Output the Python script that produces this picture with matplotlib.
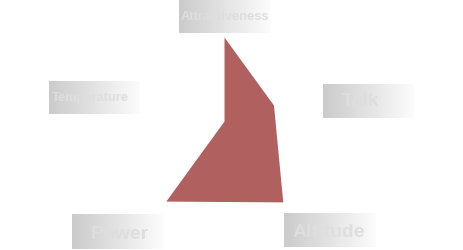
import matplotlib.pyplot as plt
import numpy as np
from matplotlib.colors import LinearSegmentedColormap

# data
categories = ['Attractiveness', 'Talk', 'Altitude', 'Power', 'Temperature']
values = [84, 52, 100, 99, 0]
r_max = 105

# label boxes (pixels, top-left origin): x0, y0, x1, y1 and text centre
boxes = [(179, 0, 270, 34), (323, 85, 414, 119), (284, 214, 376, 248),
         (72, 215, 163, 250), (49, 82, 140, 115)]
text_pos = [(224.5, 17), (361, 102), (329, 233), (120, 235), (90, 98)]
text_size = [9.3, 14, 14, 14, 9.3]

W, H = 464, 251
fig = plt.figure(figsize=(W / 100, H / 100), dpi=100)

cx, cy, R = 224.5, 122.5, 105
ax = fig.add_axes([(cx - R) / W, (H - cy - R) / H, 2 * R / W, 2 * R / H], projection='polar')
ax.set_theta_offset(np.pi / 2)
ax.set_theta_direction(-1)
angles = np.linspace(0, 2 * np.pi, len(categories), endpoint=False)
ax.fill(angles, values, color='#b0605e', linewidth=0)
ax.set_ylim(0, r_max)
ax.axis('off')

grad_cmap = LinearSegmentedColormap.from_list('g', ['#cbcbcb', '#fcfcfc'])
grad = np.linspace(0, 1, 256).reshape(1, -1)
for name, (x0, y0, x1, y1), (tx, ty), fs in zip(categories, boxes, text_pos, text_size):
    bax = fig.add_axes([x0 / W, 1 - y1 / H, (x1 - x0) / W, (y1 - y0) / H])
    bax.imshow(grad, cmap=grad_cmap, aspect='auto', extent=[0, 1, 0, 1])
    bax.axis('off')
    fig.text(tx / W, 1 - ty / H, name, ha='center', va='center', fontsize=fs,
             fontweight='bold', family='Liberation Sans', color='#dedede', zorder=10)

fig.savefig('out.png', dpi=100)
plt.close()
